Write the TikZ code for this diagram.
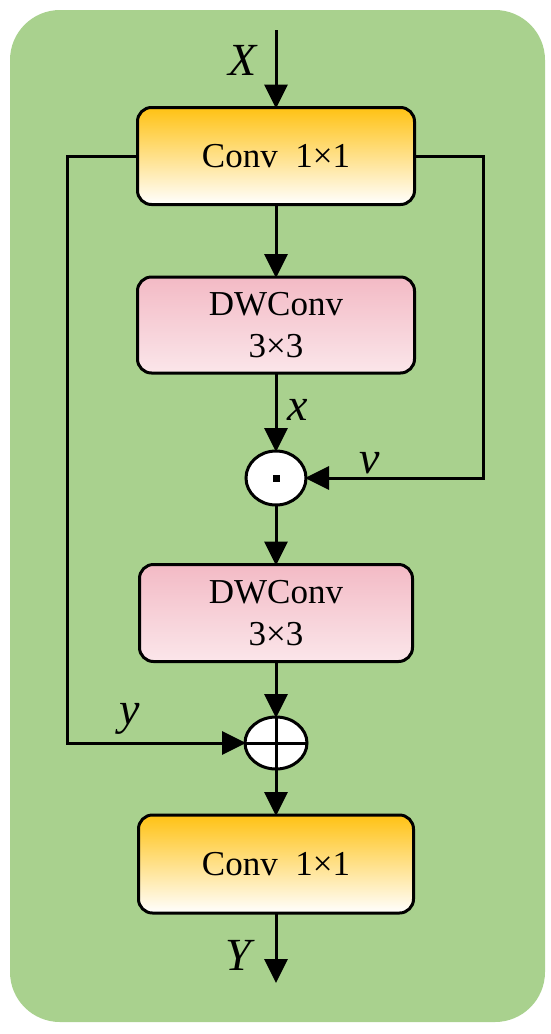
\documentclass[tikz,border=0pt]{standalone}
\usepackage{fontspec}
\setmainfont{Liberation Serif}
\usetikzlibrary{arrows.meta,shapes.geometric,calc}
\definecolor{bggreen}{RGB}{169,209,142}
\definecolor{convtop}{RGB}{255,194,20}
\definecolor{convmid}{RGB}{255,243,205}
\definecolor{pinktop}{RGB}{243,186,197}
\definecolor{pinkbot}{RGB}{251,230,234}
\tikzset{
  every node/.style={inner sep=0pt, outer sep=0pt},
  convbox/.style={draw=black, line width=3pt, rounded corners=14pt, minimum width=277pt, minimum height=97pt,
    top color=convtop, middle color=convmid, bottom color=white,
    font=\fontsize{35}{42}\selectfont, align=center},
  dwbox/.style={draw=black, line width=3pt, rounded corners=14pt, minimum width=277pt, minimum height=96pt,
    top color=pinktop, bottom color=pinkbot,
    font=\fontsize{35}{42}\selectfont, align=center},
  opnode/.style={draw=black, line width=3pt, fill=white, ellipse, minimum width=60pt, minimum height=54pt},
  lab/.style={font=\fontsize{46}{50}\selectfont\itshape},
  conn/.style={line width=3pt, -{Triangle[length=24pt,width=23pt]}, shorten >=-1pt},
}
\begin{document}
\begin{tikzpicture}[x=1pt,y=-1pt]
\useasboundingbox (0,0) rectangle (550,1034);
\fill[bggreen, rounded corners=50pt] (10,10) rectangle (545,1022);

\node[convbox] (conv1) at (276,156) {Conv~~1×1};
\node[dwbox] (dw1) at (276,325) {DWConv\\3×3};
\node[opnode] (mul) at (276,478) {};
\node[dwbox, minimum width=273pt, minimum height=97pt] (dw2) at (276,613) {DWConv\\3×3};
\node[opnode, minimum width=62pt, minimum height=52pt] (add) at (276,743) {};
\node[convbox, minimum width=275pt, minimum height=98pt] (conv2) at (276,864) {Conv~~1×1};

\fill[black] ($(mul.center)+(-3.5,-3.5)$) rectangle ($(mul.center)+(3.5,3.5)$);
\draw[line width=3pt] (add.north) -- (add.south);
\draw[line width=3pt] (add.west) -- (add.east);

\coordinate (xin) at (276,30);
\coordinate (yout) at (276,982);
\coordinate (lt) at (67,156);
\coordinate (lb) at (67,743);
\coordinate (rt) at (483,156);
\coordinate (rb) at (483,478);

\draw[conn] (xin) -- (conv1.north);
\draw[conn] (conv1.south) -- (dw1.north);
\draw[conn] (dw1.south) -- (mul.north);
\draw[conn] (mul.south) -- (dw2.north);
\draw[conn] (dw2.south) -- (add.north);
\draw[conn] (add.south) -- (conv2.north);
\draw[conn] (conv2.south) -- (yout);
\draw[conn] (conv1.west) -- (lt) -- (lb) -- (add.west);
\draw[conn] (conv1.east) -- (rt) -- (rb) -- (mul.east);

\node[lab] (lX) at (243,60) {X};
\node[lab] (lx) at (298,410) {x};
\node[lab] (lv) at (370,463) {v};
\node[lab] (ly) at (130,719) {y};
\node[lab] (lY) at (238,955) {Y};
\end{tikzpicture}
\end{document}
